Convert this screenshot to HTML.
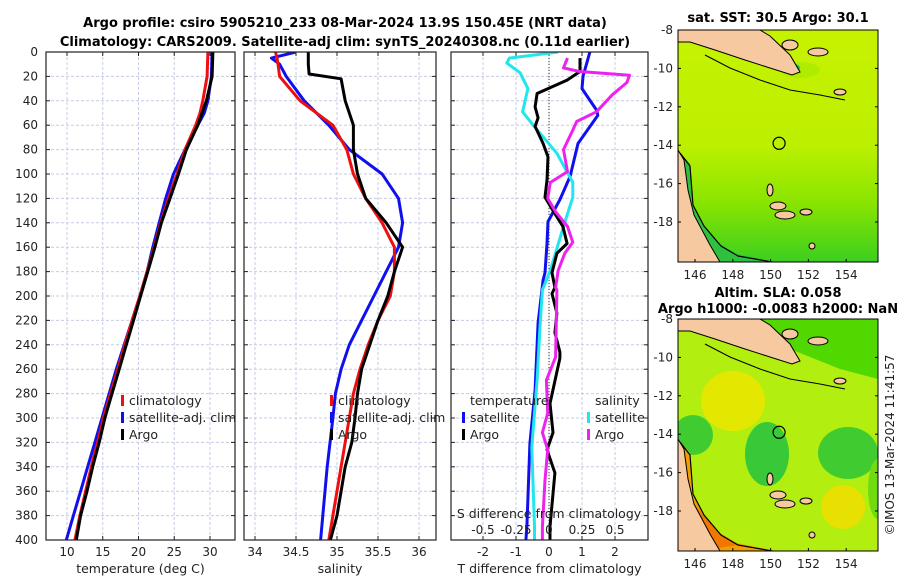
<!DOCTYPE html>
<html><head><meta charset="utf-8"><style>
html,body{margin:0;padding:0;background:#fff}
svg{display:block;font-family:"DejaVu Sans","Liberation Sans",sans-serif}
</style></head><body>
<svg id="c" width="900" height="580" viewBox="0 0 900 580">
<text x="345" y="27" font-size="13" font-weight="bold" text-anchor="middle">Argo profile: csiro 5905210_233 08-Mar-2024 13.9S 150.45E (NRT data)</text>
<text x="345" y="46" font-size="13" font-weight="bold" text-anchor="middle">Climatology: CARS2009. Satellite-adj clim: synTS_20240308.nc (0.11d earlier)</text>
<g id="maps"></g>
<g id="plots"></g>
<text transform="translate(894,445) rotate(-90)" font-size="12" text-anchor="middle" fill="#222">©IMOS 13-Mar-2024 11:41:57</text>
</svg>
<script>
// ---- data ----
const depthTicks=[0,20,40,60,80,100,120,140,160,180,200,220,240,260,280,300,320,340,360,380,400];
const tempTicks=[10,15,20,25,30];
const salTicks=[34,34.5,35,35.5,36];
const tdiffTicks=[-2,-1,0,1,2];
const sdiffTicks=[-0.5,-0.25,0,0.25,0.5];
const tempDepth=[0,20,40,50,60,80,100,120,140,160,180,200,220,240,260,280,300,320,340,360,380,400];
const tempArgo=[30.4,30.3,29.5,28.9,28.3,26.7,25.6,24.4,23.2,22.3,21.3,20.3,19.3,18.3,17.3,16.3,15.3,14.5,13.6,12.8,11.9,11.3];
const tempClim=[29.7,29.6,29.0,28.6,28.0,26.5,25.4,24.2,23.1,22.2,21.2,20.2,19.1,18.1,17.1,16.1,15.1,14.3,13.4,12.6,11.8,11.1];
const tempSat=[30.3,30.2,29.7,29.2,28.3,26.5,24.9,23.8,22.9,22.0,21.2,20.2,19.1,18.0,16.9,15.9,14.9,13.9,12.9,11.9,10.9,9.9];
const salDepthArgo=[0,10,18,22,40,60,80,100,120,140,160,180,200,220,240,260,280,300,320,340,360,380,400];
const salArgo=[34.65,34.65,34.66,35.05,35.1,35.2,35.2,35.25,35.35,35.6,35.8,35.7,35.62,35.5,35.4,35.3,35.25,35.22,35.18,35.1,35.05,35.0,34.92];
const salDepth=[0,5,10,20,40,60,80,100,120,140,160,180,200,220,240,260,280,300,340,400];
const salClim=[34.25,34.27,34.28,34.3,34.55,34.95,35.12,35.2,35.35,35.55,35.7,35.7,35.65,35.5,35.38,35.28,35.2,35.15,35.05,34.9];
const salSat=[34.5,34.2,34.3,34.38,34.6,34.9,35.15,35.55,35.75,35.8,35.75,35.6,35.45,35.3,35.15,35.05,34.98,34.95,34.88,34.8];
const dTArgoDepth=[5,16,23,34,45,54,61,75,86,105,119,130,143,157,165,181,193,198,214,230,246,251,288,312,326,345,389,400];
const dTArgo=[0.94,0.94,0.55,-0.36,-0.42,-0.33,-0.42,-0.18,-0.03,-0.06,-0.12,0.12,0.42,0.55,0.24,0.09,0.18,0.09,0.24,0.18,0.33,0.33,0.03,0.12,-0.06,0.18,0.03,0.03];
const dTSatDepth=[0,20,30,48,52,75,102,121,139,157,181,187,222,277,321,389,400];
const dTSat=[1.24,1.03,1.0,1.45,1.48,0.88,0.64,0.33,-0.03,-0.06,-0.12,-0.18,-0.33,-0.42,-0.58,-0.67,-0.7];
const dSSatDepth=[0,5,9,17,30,49,60,83,107,119,143,179,195,228,269,324,389,400];
const dSSat=[0.07,-0.3,-0.32,-0.22,-0.16,-0.2,-0.12,0.06,0.18,0.18,0.11,0.01,-0.05,-0.07,-0.09,-0.13,-0.11,-0.11];
const dSArgoDepth=[5,13,16,19,25,35,49,57,64,80,98,107,120,131,143,156,165,179,193,195,250,269,296,312,326,351,389,400];
const dSArgo=[0.14,0.11,0.23,0.61,0.59,0.48,0.36,0.21,0.18,0.11,0.14,0.01,-0.01,0.05,0.14,0.18,0.12,0.07,0.05,0.06,0.05,-0.02,-0.01,-0.05,-0.01,-0.03,-0.05,-0.05];
const latTicks=[-8,-10,-12,-14,-16,-18];
const lonTicks=[146,148,150,152,154];

const NS="http://www.w3.org/2000/svg";
function mk(tag,attrs,parent,text){const e=document.createElementNS(NS,tag);for(const k in attrs)e.setAttribute(k,attrs[k]);if(text!==undefined)e.textContent=text;parent.appendChild(e);return e;}
const plots=document.getElementById('plots');
const Y0=52,Y1=540;
const yD=d=>Y0+d*(Y1-Y0)/400;
const xT=v=>67+(v-10)*7.15;
const xS=v=>255+(v-34)*82;
const xDT=v=>549+v*33;
const xDS=v=>549+v*132;

function frame(x0,x1,ticks,sx,fmt,name,label,yLabels){
  const g=mk('g',{},plots);
  
  
  depthTicks.forEach(d=>{const l=mk('line',{x1:x0,x2:x1,y1:yD(d),y2:yD(d),stroke:'#c6cbe6','stroke-width':1,'stroke-dasharray':'3,2'},g);
    
    
    const t1=mk('line',{x1:x0,x2:x0+4,y1:yD(d),y2:yD(d),stroke:'#222'},g);const t2=mk('line',{x1:x1-4,x2:x1,y1:yD(d),y2:yD(d),stroke:'#222'},g);
    if(yLabels){const t=mk('text',{x:38,y:yD(d)+4,'font-size':12,'text-anchor':'end',fill:'#222'},g,String(d));
      
      }
  });
  ticks.forEach(v=>{const x=sx(v);const l=mk('line',{x1:x,x2:x,y1:Y0,y2:Y1,stroke:'#c6cbe6','stroke-width':1,'stroke-dasharray':'3,2'},g);
    
    
    mk('line',{x1:x,x2:x,y1:Y1,y2:Y1-4,stroke:'#222'},g);mk('line',{x1:x,x2:x,y1:Y0,y2:Y0+4,stroke:'#222'},g);
    const t=mk('text',{x:x,y:556,'font-size':12,'text-anchor':'middle',fill:'#222'},g,fmt(v));
    
    
  });
  const lab=mk('text',{x:(x0+x1)/2,y:573,'font-size':12.5,'text-anchor':'middle',fill:'#222'},g,label);
  
  
  return g;
}
function box(x0,x1){const r=mk('rect',{x:x0,y:Y0,width:x1-x0,height:Y1-Y0,fill:'none',stroke:'#222','stroke-width':1.2},plots);
  
  }
function line(depths,vals,sx,color,name,clip){
  const p=mk('polyline',{points:depths.map((d,i)=>sx(vals[i]).toFixed(1)+','+yD(d).toFixed(1)).join(' '),fill:'none',stroke:color,'stroke-width':3,'stroke-linejoin':'round','clip-path':clip},plots);
  
  
}
const defs=mk('defs',{},document.getElementById('c'));
[['cp1',46,235],['cp2',244,436],['cp3',451,648]].forEach(([id,a,b])=>{const cp=mk('clipPath',{id:id},defs);mk('rect',{x:a,y:Y0,width:b-a,height:Y1-Y0},cp);});

frame(46,235,tempTicks,xT,String,'temperature-panel','temperature (deg C)',true);
frame(244,436,salTicks,xS,v=>String(v),'salinity-panel','salinity',false);
frame(451,648,tdiffTicks,xDT,String,'difference-panel','T difference from climatology',false);
const z=mk('line',{x1:549,x2:549,y1:Y0,y2:Y1,stroke:'#333','stroke-width':1,'stroke-dasharray':'1,2'},plots);



line(tempDepth,tempSat,xT,'#1010ee','temp-satellite-line','url(#cp1)');
line(tempDepth,tempClim,xT,'#ee1010','temp-climatology-line','url(#cp1)');
line(tempDepth,tempArgo,xT,'#000','temp-argo-line','url(#cp1)');
line(salDepth,salSat,xS,'#1010ee','sal-satellite-line','url(#cp2)');
line(salDepth,salClim,xS,'#ee1010','sal-climatology-line','url(#cp2)');
line(salDepthArgo,salArgo,xS,'#000','sal-argo-line','url(#cp2)');
line(dTSatDepth,dTSat,xDT,'#1010ee','tdiff-satellite-line','url(#cp3)');
line(dSSatDepth,dSSat,xDS,'#22e6ee','sdiff-satellite-line','url(#cp3)');
line(dTArgoDepth,dTArgo,xDT,'#000','tdiff-argo-line','url(#cp3)');
line(dSArgoDepth,dSArgo,xDS,'#ee22ee','sdiff-argo-line','url(#cp3)');
box(46,235);box(244,436);box(451,648);

// S diff axis inside panel 3
const st=mk('text',{x:549,y:518,'font-size':12.5,'text-anchor':'middle',fill:'#222'},plots,'S difference from climatology');


sdiffTicks.forEach(v=>{const t=mk('text',{x:xDS(v),y:534,'font-size':12,'text-anchor':'middle',fill:'#222'},plots,String(v));
  
  });

function legend(x,y,color,label,name){
  const g=mk('g',{},plots);
  
  
  mk('rect',{x:x,y:y-10,width:3,height:11,fill:color},g);
  mk('text',{x:x+8,y:y,'font-size':12.5,fill:'#222'},g,label);
}
legend(121,405,'#ee1010','climatology','legend-t-climatology');
legend(121,422,'#1010ee','satellite-adj. clim','legend-t-satellite');
legend(121,439,'#000','Argo','legend-t-argo');
legend(330,405,'#ee1010','climatology','legend-s-climatology');
legend(330,422,'#1010ee','satellite-adj. clim','legend-s-satellite');
legend(330,439,'#000','Argo','legend-s-argo');
const lt=mk('text',{x:470,y:405,'font-size':12.5,fill:'#222'},plots,'temperature');


const ls=mk('text',{x:595,y:405,'font-size':12.5,fill:'#222'},plots,'salinity');


legend(462,422,'#1010ee','satellite','legend-tdiff-satellite');
legend(462,439,'#000','Argo','legend-tdiff-argo');
legend(587,422,'#22e6ee','satellite','legend-sdiff-satellite');
legend(587,439,'#ee22ee','Argo','legend-sdiff-argo');

// ---- maps ----
const maps=document.getElementById('maps');
const MX0=678,MX1=878;
const mLon=v=>695+(v-146)*18.9;
function map(top,title,title2,kind,name){
  const g=mk('g',{transform:'translate(0,'+top+')'},maps);
  
  
  const cid='mc'+top;const cp=mk('clipPath',{id:cid},defs);mk('rect',{x:MX0,y:30,width:200,height:232},cp);
  const b=mk('g',{'clip-path':'url(#'+cid+')'},g);
  if(kind==='sst'){
    const gr=mk('linearGradient',{id:'gs',x1:0,y1:0,x2:0,y2:1},defs);
    mk('stop',{offset:'0','stop-color':'#c6f200'},gr);mk('stop',{offset:'0.5','stop-color':'#bcf000'},gr);
    mk('stop',{offset:'0.75','stop-color':'#88e400'},gr);mk('stop',{offset:'1','stop-color':'#3ccf20'},gr);
    mk('rect',{x:MX0,y:30,width:200,height:232,fill:'url(#gs)'},b);
    mk('polygon',{points:'678,150 690,164 692,204 703,224 720,244 737,254 777,262 678,262',fill:'#30c040'},b);
    mk('ellipse',{cx:800,cy:70,rx:20,ry:8,fill:'#b0ec00'},b);
    mk('ellipse',{cx:790,cy:68,rx:10,ry:5,fill:'#10c060'},b);
  }else{
    mk('rect',{x:MX0,y:30,width:200,height:232,fill:'#b2ee10'},b);
    mk('polygon',{points:'678,30 878,30 878,90 840,80 790,60 740,45',fill:'#50d800'},b);
    mk('ellipse',{cx:733,cy:112,rx:32,ry:30,fill:'#e4e800'},b);
    mk('ellipse',{cx:843,cy:218,rx:22,ry:22,fill:'#e8e000'},b);
    mk('ellipse',{cx:693,cy:146,rx:20,ry:20,fill:'#40cc30'},b);
    mk('ellipse',{cx:767,cy:165,rx:22,ry:32,fill:'#38c838'},b);
    mk('ellipse',{cx:848,cy:164,rx:30,ry:26,fill:'#40cc30'},b);
    mk('ellipse',{cx:878,cy:200,rx:10,ry:30,fill:'#70dc10'},b);
    mk('polygon',{points:'678,150 690,164 692,204 703,224 720,244 737,254 777,262 678,262',fill:'#f0a000'},b);
    mk('polygon',{points:'690,210 703,226 720,246 737,256 700,262 690,250',fill:'#f07800'},b);
  }
  mk('polygon',{points:'678,30 760,30 770,36 790,55 800,72 792,75 770,68 745,60 715,50 690,42 678,42',fill:'#f7c9a0',stroke:'#000','stroke-width':1},b);
  mk('polygon',{points:'678,150 684,160 688,190 694,215 710,245 720,262 678,262',fill:'#f7c9a0',stroke:'#000','stroke-width':1},b);
  mk('polyline',{points:'680,153 690,166 693,205 704,226 721,246 738,256 778,263',fill:'none',stroke:'#000','stroke-width':1.2},b);
  mk('polyline',{points:'705,55 730,68 760,80 790,90 820,95 845,100',fill:'none',stroke:'#000','stroke-width':1},b);
  [[790,45,8,5],[818,52,10,4],[840,92,6,3],[770,190,3,6],[778,206,8,4],[785,215,10,4],[806,212,6,3],[812,246,3,3]].forEach(p=>mk('ellipse',{cx:p[0],cy:p[1],rx:p[2],ry:p[3],fill:'#f7c9a0',stroke:'#000','stroke-width':1},b));
  const m=mk('circle',{cx:mLon(150.45),cy:30+(13.9-8)*19.2,r:6,fill:'none',stroke:'#000','stroke-width':1.2},g);
  
  
  mk('rect',{x:MX0,y:30,width:200,height:232,fill:'none',stroke:'#000','stroke-width':1},g);
  latTicks.forEach(v=>{const y=30+(-8-v)*19.2;mk('line',{x1:MX0,x2:MX0+3,y1:y,y2:y,stroke:'#000'},g);mk('line',{x1:MX1-3,x2:MX1,y1:y,y2:y,stroke:'#000'},g);
    const t=mk('text',{x:673,y:y+4,'font-size':12,'text-anchor':'end',fill:'#222'},g,String(v));
    
    });
  lonTicks.forEach(v=>{const x=mLon(v);mk('line',{x1:x,x2:x,y1:262,y2:259,stroke:'#000'},g);
    const t=mk('text',{x:x,y:279,'font-size':12,'text-anchor':'middle',fill:'#222'},g,String(v));
    
    });
  const t1=mk('text',{x:778,y:title2?8:22,'font-size':13,'font-weight':'bold','text-anchor':'middle'},g,title);
  
  
  if(title2){const t2=mk('text',{x:778,y:24,'font-size':13,'font-weight':'bold','text-anchor':'middle'},g,title2);
    
    }
}
map(0,'sat. SST: 30.5 Argo: 30.1',null,'sst','sst-map');
map(289,'Altim. SLA: 0.058','Argo h1000: -0.0083 h2000: NaN','sla','sla-map');
</script>
</body></html>
